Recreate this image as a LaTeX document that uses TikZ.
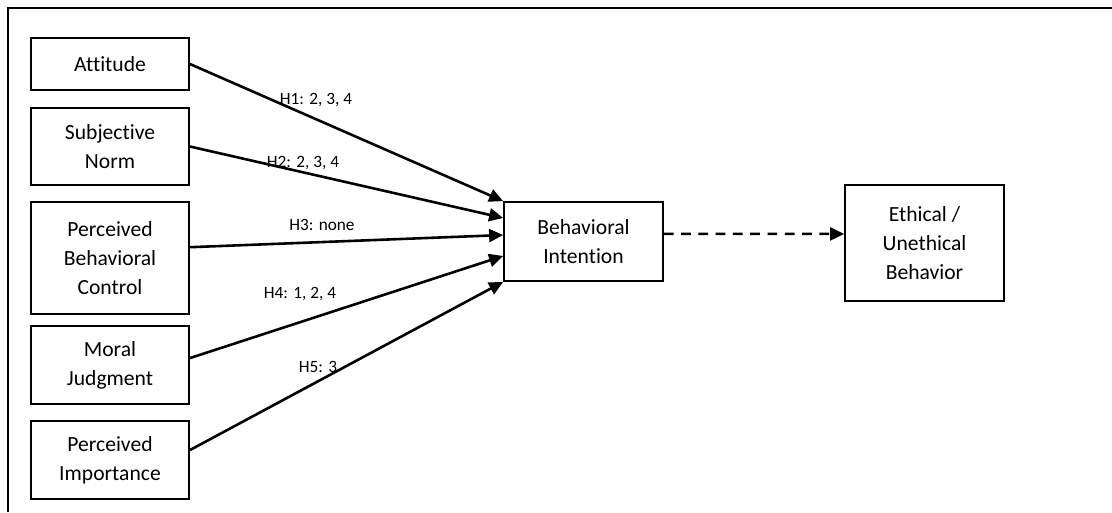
\documentclass[tikz,border=0pt]{standalone}
\usepackage{fontspec}
\setmainfont{Carlito}[RawFeature=-liga]
\usetikzlibrary{arrows.meta}

\begin{document}
\begin{tikzpicture}[x=0.463pt,y=-0.463pt,
  box/.style={draw,line width=0.8pt,align=center,minimum width=73.2pt,
    font=\fontsize{10}{13.4}\selectfont},
  hyp/.style={font=\fontsize{8}{9.6}\selectfont,inner sep=0pt},
  link/.style={line width=1.2pt,-{Triangle[length=6.5pt,width=6pt]}}]
\useasboundingbox (0,0) rectangle (1112,512);
% open frame round the model
\draw[line width=0.8pt] (8,512) -- (8,8) -- (1112,8);

% predictors
\node[box,minimum height=24.1pt] (att) at (110,64) {Attitude};
\node[box,minimum height=35.7pt] (sn) at (110,146.5) {Subjective\\Norm};
\node[box,minimum height=51.9pt] (pbc) at (110,258) {Perceived\\Behavioral\\Control};
\node[box,minimum height=36.1pt] (mj) at (110,365) {Moral\\Judgment};
\node[box,minimum height=36.1pt] (pi) at (110,460) {Perceived\\Importance};

% intention and behavior
\node[box,minimum width=73.6pt,minimum height=36.6pt] (bi) at (583.5,241.5) {Behavioral\\Intention};
\node[box,minimum width=73.6pt,minimum height=53.7pt] (eb) at (924.5,243) {Ethical /\\Unethical\\Behavior};

% hypothesised paths
\draw[link] (att.east) -- (bi.north west);
\draw[link] (sn.east) -- ([yshift=10.9pt]bi.west);
\draw[link] ([yshift=5pt]pbc.east) -- ([yshift=3pt]bi.west);
\draw[link] ([yshift=3.2pt]mj.east) -- ([yshift=-6.7pt]bi.west);
\draw[link] ([yshift=4.6pt]pi.east) -- (bi.south west);
\draw[link,dash pattern=on 4.5pt off 3.5pt] ([yshift=3.5pt]bi.east) -- ([yshift=4.2pt]eb.west);

\node[hyp] (h1) at (316,100) {H1: 2, 3, 4};
\node[hyp] (h2) at (303,163) {H2: 2, 3, 4};
\node[hyp] (h3) at (322,225) {H3: none};
\node[hyp] (h4) at (300,294) {H4: 1, 2, 4};
\node[hyp] (h5) at (318,367) {H5: 3};
\end{tikzpicture}
\end{document}
